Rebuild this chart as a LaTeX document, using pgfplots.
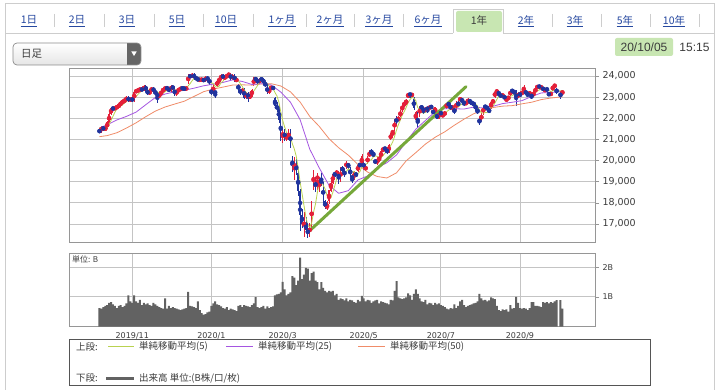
\documentclass[border=0pt]{standalone}
\usepackage{pgfplots}
\usepackage{pgfplotstable}
\pgfplotsset{compat=1.18}
\usepackage{fontspec}
\setmainfont{Noto Sans CJK JP}
\newfontfamily\dejavu{DejaVu Sans}
\newfontfamily\libsans{Liberation Sans}
\definecolor{upred}{RGB}{228,32,58}
\definecolor{dnblue}{RGB}{32,52,158}
\definecolor{mafive}{RGB}{185,210,80}
\definecolor{matwentyfive}{RGB}{165,85,225}
\definecolor{mafifty}{RGB}{240,140,105}
\definecolor{trend}{RGB}{118,168,58}
\definecolor{volgray}{RGB}{98,98,98}
\definecolor{gridgray}{RGB}{196,196,196}
\definecolor{axisgray}{RGB}{150,150,150}
\definecolor{framegray}{RGB}{205,205,205}
\definecolor{linkblue}{RGB}{38,72,160}
\definecolor{txtgray}{RGB}{60,60,60}
\definecolor{hlgreen}{RGB}{200,230,178}
\definecolor{legendgray}{RGB}{85,85,85}

\pgfplotstableread{
x o h l c v m
0 21410 21470 21315 21375 0.62 21558
1 21375 21648 21315 21588 0.60 21498
2 21588 21648 21396 21456 0.65 21434
3 21456 21612 21396 21552 0.70 21476
4 21552 21859 21492 21799 0.72 21554
5 21799 22267 21739 22207 0.80 21720
6 22207 22533 22147 22473 0.82 21897
7 22473 22533 22392 22452 0.75 22097
8 22452 22553 22392 22493 0.70 22285
9 22493 22609 22433 22549 0.62 22435
10 22549 22685 22489 22625 0.70 22518
11 22625 22811 22565 22751 0.72 22574
12 22751 22859 22691 22799 0.65 22643
13 22799 22928 22739 22868 0.70 22718
14 22868 23034 22808 22974 0.78 22803
15 22974 23034 22784 22844 1.05 22847
16 22844 22987 22784 22927 0.85 22882
17 22927 22987 22791 22851 0.80 22893
18 22851 23312 22791 23252 1.05 22970
19 23252 23363 23192 23303 0.85 23035
20 23303 23390 23243 23330 0.80 23133
21 23330 23452 23270 23392 0.90 23226
22 23392 23452 23272 23332 0.72 23322
23 23332 23580 23272 23520 0.80 23375
24 23520 23580 23260 23320 0.75 23379
25 23320 23380 23081 23141 0.78 23341
26 23141 23363 23081 23303 0.72 23323
27 23303 23477 23243 23417 0.70 23340
28 23417 23477 23233 23293 0.80 23295
29 23293 23353 23089 23149 0.75 23261
30 23149 23209 22726 23039 0.70 23240
31 23039 23173 22979 23113 0.65 23202
32 23113 23353 23053 23293 0.62 23177
33 23293 23434 23233 23374 0.60 23194
34 23374 23498 23314 23438 0.95 23251
35 23438 23498 23349 23409 0.60 23325
36 23409 23469 23234 23294 0.70 23362
37 23294 23589 23234 23529 0.62 23409
38 23529 23589 23320 23380 0.65 23410
39 23380 23440 23044 23135 0.62 23349
40 23135 23360 23075 23300 0.60 23328
41 23300 23414 23240 23354 0.58 23340
42 23354 23490 23294 23430 0.55 23320
43 23430 23490 23350 23410 0.58 23326
44 23410 23470 23332 23392 0.60 23377
45 23392 23485 23332 23425 0.62 23402
46 23700 24083 23640 24023 1.17 23536
47 24023 24083 23893 23953 0.70 23641
48 23953 24126 23893 24066 0.68 23772
49 24066 24126 23875 23935 0.65 23880
50 23935 23995 23805 23865 0.62 23968
51 23865 23925 23757 23817 0.85 23927
52 23817 23881 23757 23821 0.55 23901
53 23821 23891 23761 23831 0.45 23854
54 23831 23891 23723 23783 0.40 23823
55 23783 23985 23723 23925 0.42 23835
56 23925 23985 23778 23838 0.48 23840
57 23838 23898 23597 23657 0.50 23807
58 23320 23380 23115 23205 0.70 23682
59 23205 23636 23145 23576 0.78 23640
60 23250 23300 22951 23205 0.85 23496
61 23550 23800 23490 23740 0.75 23477
62 23740 23911 23680 23851 0.72 23515
63 23851 24085 23791 24025 0.68 23679
64 24025 24085 23857 23917 0.62 23748
65 23917 23993 23857 23933 0.60 23893
66 23933 24101 23873 24041 0.65 23953
67 24041 24143 23981 24083 0.55 24000
68 24083 24143 23805 23865 0.60 23968
69 23865 24091 23805 24031 0.58 23991
70 24031 24091 23735 23795 0.55 23963
71 23795 23887 23735 23827 0.52 23920
72 23600 23640 23284 23344 0.70 23772
73 23344 23404 23116 23216 0.72 23643
74 23216 23440 23156 23380 0.65 23512
75 23380 23440 22917 22977 0.72 23349
76 22977 23265 22917 23205 0.70 23224
77 23205 23265 22775 22972 0.68 23150
78 22972 23145 22912 23085 0.65 23124
79 23085 23380 23025 23320 0.72 23112
80 23600 23930 23540 23874 0.78 23291
81 23874 23934 23768 23828 0.99 23416
82 23828 23888 23626 23686 0.65 23559
83 23686 23921 23626 23861 0.62 23714
84 23861 23921 23768 23828 0.65 23815
85 23828 23888 23628 23688 0.70 23778
86 23688 23748 23463 23523 0.60 23717
87 23523 23583 23134 23194 0.68 23619
88 23194 23461 23134 23401 0.62 23527
89 23401 23540 23341 23480 0.65 23457
90 23480 23540 23327 23387 0.68 23397
91 22950 23000 22450 22606 1.05 23214
92 22606 22756 22277 22427 1.08 23060
93 22427 22577 21798 21948 1.10 22770
94 21948 22098 20916 21143 1.15 22302
95 21143 21495 20834 21345 1.51 21894
96 21345 21495 20933 21083 1.25 21589
97 21083 21250 20933 21100 1.05 21324
98 21100 21480 20950 21330 1.10 21200
99 21330 21480 20600 20750 1.15 21122
100 20100 20200 19474 19699 1.70 20792
101 19699 20167 19102 19867 1.65 20549
102 19867 20067 19316 19416 1.40 20212
103 19416 19566 18339 18560 1.55 19658
104 18560 18660 16690 17431 2.32 18995
105 17431 17700 16800 17002 1.60 18455
106 17002 17580 16378 17012 1.75 17884
107 17012 17350 16600 16727 1.98 17346
108 16727 16900 16358 16553 1.95 16945
109 16553 17050 16400 16888 1.55 16836
110 16888 18100 16850 18092 1.80 17054
111 18700 19564 18600 19547 1.85 17561
112 19100 19200 18500 18665 1.55 17949
113 19000 19400 18600 19389 1.50 18516
114 18800 19200 18500 19084 1.25 18955
115 19084 19400 18800 18917 1.50 19120
116 18917 19000 18000 18065 1.30 18824
117 18065 18150 17707 17819 1.20 18655
118 17819 18100 17646 17820 1.15 18341
119 18100 18600 17950 18576 1.20 18239
120 18576 19170 18500 18950 1.18 18246
121 18950 19400 18900 19353 1.20 18504
122 19353 19500 19200 19345 1.05 18809
123 19345 19570 19300 19499 1.10 19145
124 19499 19499 18900 19043 0.90 19238
125 19043 19700 19000 19639 0.95 19376
126 19639 19730 19450 19550 0.92 19415
127 19550 19600 19200 19291 0.88 19404
128 19700 20000 19600 19897 0.95 19484
129 19897 19900 19600 19669 0.85 19609
130 19669 19700 19200 19281 0.90 19538
131 19281 19300 18920 19138 0.88 19455
132 19138 19500 19100 19429 0.82 19483
133 19429 19450 19200 19262 0.80 19356
134 19500 19800 19450 19784 0.90 19379
135 19784 19900 19700 19771 0.85 19477
136 19771 20300 19750 20194 1.03 19688
137 19950 20000 19550 19619 0.95 19726
138 19619 19770 19500 19675 0.85 19809
139 19900 20200 19850 20179 0.90 19888
140 20179 20500 20150 20391 0.88 20012
141 20391 20530 20300 20367 0.80 20046
142 20367 20400 20150 20267 0.85 20176
143 20000 20050 19850 19915 0.88 20224
144 19915 20100 19800 20037 0.90 20195
145 20037 20200 19950 20134 0.78 20144
146 20134 20500 20100 20433 0.85 20157
147 20433 20650 20400 20595 0.82 20223
148 20595 20640 20450 20552 0.80 20350
149 20552 20600 20300 20388 0.78 20420
150 20388 20760 20350 20742 0.75 20542
151 21000 21300 20950 21271 0.90 20710
152 21271 21450 21100 21420 0.88 20875
153 21420 21950 21400 21917 1.20 21148
154 21917 22100 21700 21878 1.53 21446
155 21878 22100 21850 22062 0.98 21710
156 22062 22400 22050 22326 0.95 21921
157 22326 22700 22300 22614 0.92 22159
158 22614 22800 22550 22696 0.95 22315
159 22696 22900 22650 22864 0.98 22512
160 23000 23185 22950 23178 1.12 22736
161 23178 23200 22950 23092 1.05 22889
162 23092 23200 23000 23125 0.90 22991
163 22900 23000 22400 22473 1.10 22946
164 21950 22350 21800 22305 1.25 22835
165 22150 22300 21530 21531 1.10 22505
166 22100 22600 22050 22583 0.95 22403
167 22583 22630 22400 22456 0.85 22270
168 22456 22500 22200 22355 0.82 22246
169 22355 22500 22300 22479 0.90 22281
170 22479 22500 22250 22437 0.75 22462
171 22437 22600 22400 22549 0.80 22455
172 22549 22600 22450 22535 0.78 22471
173 22350 22400 22200 22260 0.72 22452
174 22260 22550 22250 22512 0.80 22459
175 22200 22250 21950 21995 0.75 22370
176 21995 22350 21950 22288 0.78 22318
177 22350 22400 22100 22122 0.72 22235
178 22122 22250 22050 22146 0.70 22213
179 22146 22350 22100 22307 0.65 22172
180 22500 22720 22450 22714 0.60 22315
181 22714 22800 22550 22614 0.58 22381
182 22614 22650 22400 22439 0.62 22444
183 22439 22650 22400 22529 0.60 22521
184 22450 22500 22200 22291 0.75 22517
185 22450 22800 22400 22785 0.62 22532
186 22785 22800 22550 22587 0.70 22526
187 22850 23000 22800 22945 0.85 22627
188 22945 22950 22700 22770 0.90 22676
189 22770 22800 22600 22696 0.72 22757
190 22696 22800 22650 22717 0.65 22743
191 22717 22950 22700 22885 0.70 22803
192 22885 22900 22650 22751 0.72 22764
193 22751 22800 22650 22715 0.75 22753
194 22715 22750 22600 22657 0.78 22745
195 22657 22700 22350 22397 0.80 22681
196 22397 22450 22200 22339 0.85 22572
197 22000 22050 21710 21710 1.10 22364
198 21900 22250 21850 22196 0.95 22260
199 22196 22600 22150 22574 0.88 22243
200 22574 22650 22450 22515 0.90 22267
201 22515 22600 22400 22418 0.85 22283
202 22418 22450 22250 22329 0.88 22406
203 22500 22800 22450 22750 0.98 22517
204 22750 22900 22700 22844 0.95 22571
205 23000 23300 22950 23250 0.92 22718
206 23250 23340 23200 23289 0.70 22892
207 23289 23300 23000 23097 0.55 23046
208 23097 23150 23000 23051 0.52 23106
209 23051 23150 23000 23111 0.58 23160
210 23111 23120 22850 22880 0.55 23086
211 22880 22950 22800 22921 0.58 23012
212 22921 23050 22900 22985 0.50 22990
213 23100 23320 23050 23297 0.72 23039
214 23297 23350 23250 23291 0.60 23075
215 23291 23300 23150 23209 0.62 23141
216 23250 23330 22600 22883 1.00 23133
217 23000 23250 22950 23140 0.80 23164
218 23140 23200 23000 23138 0.62 23132
219 23138 23300 23100 23247 0.60 23123
220 23247 23580 23200 23466 0.62 23175
221 23250 23300 23150 23205 0.60 23239
222 23205 23220 23000 23089 0.55 23229
223 23089 23300 23050 23274 0.62 23256
224 23100 23150 22900 23032 0.82 23213
225 23032 23300 23000 23235 0.82 23167
226 23235 23450 23200 23406 0.70 23207
227 23406 23580 23380 23559 0.70 23301
228 23559 23570 23400 23455 0.68 23337
229 23455 23520 23400 23475 0.65 23426
230 23475 23480 23300 23320 0.82 23443
231 23320 23400 23250 23360 0.80 23434
232 23360 23450 23300 23347 0.82 23391
233 23200 23220 23050 23088 0.78 23318
234 23088 23250 23050 23205 0.82 23264
235 23350 23550 23300 23512 0.80 23302
236 23512 23640 23450 23540 0.85 23338
237 23400 23450 23150 23185 0.89 23306
239 23200 23300 22900 23030 0.89 23294
240 23150 23320 23100 23312 0.60 23316
}\candles

\begin{document}
\begin{tikzpicture}[x=1pt,y=1pt]
\path[use as bounding box] (0,0) rectangle (720,-390);
\fill[white] (0,0) rectangle (720,-390);

% outer frame and tab line
\draw[framegray, line width=0.8pt] (5,-390) -- (5,-3) -- (714,-3) -- (714,-390);
\draw[framegray, line width=0.8pt] (5,-33) -- (453,-33);
\draw[framegray, line width=0.8pt] (503,-33) -- (714,-33);
\draw[framegray, line width=0.8pt] (453,-33) -- (453,-9) -- (503,-9) -- (503,-33);
\fill[hlgreen, rounded corners=2pt] (456,-11) rectangle (502,-32);

% tab separators
\foreach \sx in {54,104,154,203,253,306,354,403,552,601,650,699}
  \draw[framegray, line width=0.8pt] (\sx,-14) -- (\sx,-27);

% tabs
\foreach \xx/\lab in {29/1日,77/2日,127/3日,177/5日,226/10日,282/1ヶ月,330/2ヶ月,379/3ヶ月,428/6ヶ月,526/2年,575/3年,625/5年,674/10年}{
  \node[text=linkblue, font=\fontsize{10.5}{12}\selectfont, inner sep=0pt] (tb) at (\xx,-20) {\lab};
  \draw[linkblue, line width=0.7pt] ([yshift=-2.2pt]tb.base west) -- ([yshift=-2.2pt]tb.base east);
}
\node[text=txtgray, font=\fontsize{10.5}{12}\selectfont, inner sep=0pt] at (479,-20) {1年};

% dropdown
\shade[top color=white, bottom color=black!10, rounded corners=4pt] (13,-43) rectangle (141,-65);
\begin{scope}
\clip[rounded corners=4pt] (13,-43) rectangle (141,-65);
\fill[black!60] (127,-43) rectangle (141,-65);
\end{scope}
\draw[black!45, rounded corners=4pt, line width=0.7pt] (13,-43) rectangle (141,-65);
\fill[white] (131.3,-51.5) -- (136.7,-51.5) -- (134,-56) -- cycle;
\node[anchor=west, text=txtgray, font=\fontsize{10.5}{12}\selectfont, inner sep=0pt] at (21,-54) {日足};

% date
\fill[hlgreen, rounded corners=2pt] (615,-38) rectangle (673,-56);
\node[text=txtgray, font=\libsans\fontsize{12}{14}\selectfont, inner sep=0pt] at (644,-47) {20/10/05};
\node[text=txtgray, font=\libsans\fontsize{12}{14}\selectfont, inner sep=0pt] at (694.5,-47) {15:15};

% price panel
\begin{axis}[
  at={(69pt,-68pt)}, anchor=north west, scale only axis,
  width=526pt, height=174pt,
  xmin=-15.8, xmax=256.9, ymin=16149, ymax=24378,
  axis line style={draw=axisgray, line width=0.8pt},
  xtick={17,58,95,137,177,218}, xticklabels={},
  ytick={17000,18000,19000,20000,21000,22000,23000,24000},
  scaled y ticks=false,
  grid=major, grid style={draw=gridgray, line width=0.8pt},
  ytick pos=right, yticklabel pos=right,
  tick align=outside, major tick length=4pt,
  xtick style={draw=none},
  ytick style={draw=axisgray, line width=0.6pt},
  /pgf/number format/1000 sep={,},
  /pgf/number format/assume math mode=true,
  yticklabel style={font=\dejavu\fontsize{9.5}{11}\selectfont, text=txtgray},
]
% wicks
\addplot[only marks, mark=none, color=upred,
  restrict expr to domain={\thisrow{c}-\thisrow{o}}{0:100000},
  error bars/.cd, y dir=both, y explicit, error mark=none,
  error bar style={line width=0.6pt, draw=upred}]
  table[x=x, y expr={(\thisrow{h}+\thisrow{l})/2}, y error expr={(\thisrow{h}-\thisrow{l})/2}] {\candles};
\addplot[only marks, mark=none, color=dnblue,
  restrict expr to domain={\thisrow{c}-\thisrow{o}}{-100000:-0.5},
  error bars/.cd, y dir=both, y explicit, error mark=none,
  error bar style={line width=0.6pt, draw=dnblue}]
  table[x=x, y expr={(\thisrow{h}+\thisrow{l})/2}, y error expr={(\thisrow{h}-\thisrow{l})/2}] {\candles};
% bodies
\addplot[only marks, mark=none, color=upred,
  restrict expr to domain={\thisrow{c}-\thisrow{o}}{0:100000},
  error bars/.cd, y dir=both, y explicit, error mark=none,
  error bar style={line width=1.4pt, draw=upred}]
  table[x=x, y expr={(\thisrow{o}+\thisrow{c})/2}, y error expr={(\thisrow{c}-\thisrow{o})/2+10}] {\candles};
\addplot[only marks, mark=none, color=dnblue,
  restrict expr to domain={\thisrow{c}-\thisrow{o}}{-100000:-0.5},
  error bars/.cd, y dir=both, y explicit, error mark=none,
  error bar style={line width=1.4pt, draw=dnblue}]
  table[x=x, y expr={(\thisrow{o}+\thisrow{c})/2}, y error expr={(\thisrow{o}-\thisrow{c})/2+10}] {\candles};
% moving averages
\addplot[mafifty, line width=0.8pt, mark=none] coordinates {
(0,21130) (4,21181) (9,21315) (14,21538) (19,21787) (24,22075) (29,22340) (34,22533) (39,22673) (44,22808) (49,23033) (54,23259) (59,23380) (64,23474) (69,23570) (74,23583) (79,23568) (84,23625) (89,23636) (94,23528) (99,23252) (104,22769) (109,22089) (114,21610) (119,21035) (124,20607) (129,20257) (134,19813) (139,19456) (144,19246) (149,19176) (154,19421) (159,19988) (164,20376) (169,20780) (174,21102) (179,21359) (184,21672) (189,21959) (194,22214) (199,22397) (204,22509) (209,22574) (214,22598) (219,22682) (224,22758) (229,22883) (234,22958) (240,23015)};
\addplot[matwentyfive, line width=0.8pt, mark=none] coordinates {
(0,21540) (4,21696) (9,21920) (14,22090) (19,22292) (24,22641) (29,22983) (34,23146) (39,23255) (44,23323) (49,23424) (54,23536) (59,23614) (64,23694) (69,23816) (74,23743) (79,23601) (84,23636) (89,23577) (94,23240) (99,22762) (104,21938) (109,20542) (114,19642) (119,18829) (124,18453) (129,18576) (134,19084) (139,19271) (144,19662) (149,19898) (154,20266) (159,20892) (164,21482) (169,21899) (174,22306) (179,22452) (184,22453) (189,22437) (194,22530) (199,22487) (204,22567) (209,22695) (214,22759) (219,22834) (224,23028) (229,23199) (234,23220) (240,23270)};
\addplot[mafive, line width=0.8pt, mark=none] table[x=x, y=m] {\candles};
% trend line
\addplot[trend, line width=3pt, line cap=round, mark=none] coordinates {(108.8,16669) (190,23494)};
\end{axis}

% volume panel
\begin{axis}[
  at={(69pt,-253.3pt)}, anchor=north west, scale only axis,
  width=526pt, height=73.2pt,
  xmin=-15.8, xmax=256.9, ymin=0, ymax=2.47,
  axis line style={draw=axisgray, line width=0.8pt},
  xtick={17,58,95,137,177,218},
  xticklabels={2019/11,2020/1,2020/3,2020/5,2020/7,2020/9},
  ytick={1,2}, yticklabels={1B,2B},
  grid=major, grid style={draw=gridgray, line width=0.8pt},
  ytick pos=right, yticklabel pos=right,
  tick align=outside, major tick length=4pt,
  xtick style={draw=none},
  ytick style={draw=axisgray, line width=0.6pt},
  yticklabel style={font=\dejavu\fontsize{8}{9}\selectfont, text=txtgray},
  xticklabel style={font=\dejavu\fontsize{8}{9}\selectfont, text=txtgray, inner sep=1.5pt},
]
\addplot[ybar, bar width=1.05, bar shift=0pt, fill=volgray, draw=none] table[x=x, y=v] {\candles};
\end{axis}
\node[anchor=west, text=txtgray, font=\fontsize{8}{9}\selectfont, inner sep=0pt] at (72,-259.5) {単位: B};

% legend box
\draw[legendgray, line width=0.8pt] (69,-339.3) rectangle (650.7,-385.7);
\node[anchor=west, text=txtgray, font=\fontsize{9.5}{11}\selectfont, inner sep=0pt] at (76,-346.5) {上段:};
\draw[draw=mafive, line width=1.1pt] (108,-346.5) -- (134,-346.5);
\node[anchor=west, text=txtgray, font=\fontsize{9.5}{11}\selectfont, inner sep=0pt] at (139,-346.5) {単純移動平均(5)};
\draw[draw=matwentyfive, line width=1.1pt] (226,-346.5) -- (253,-346.5);
\node[anchor=west, text=txtgray, font=\fontsize{9.5}{11}\selectfont, inner sep=0pt] at (258,-346.5) {単純移動平均(25)};
\draw[draw=mafifty, line width=1.1pt] (358,-346.5) -- (385,-346.5);
\node[anchor=west, text=txtgray, font=\fontsize{9.5}{11}\selectfont, inner sep=0pt] at (390,-346.5) {単純移動平均(50)};
\node[anchor=west, text=txtgray, font=\fontsize{9.5}{11}\selectfont, inner sep=0pt] at (76,-378) {下段:};
\draw[draw=volgray, line width=3pt] (106,-378) -- (134,-378);
\node[anchor=west, text=txtgray, font=\fontsize{9.5}{11}\selectfont, inner sep=0pt] at (139,-378) {出来高 単位:(B株/口/枚)};
\end{tikzpicture}
\end{document}
